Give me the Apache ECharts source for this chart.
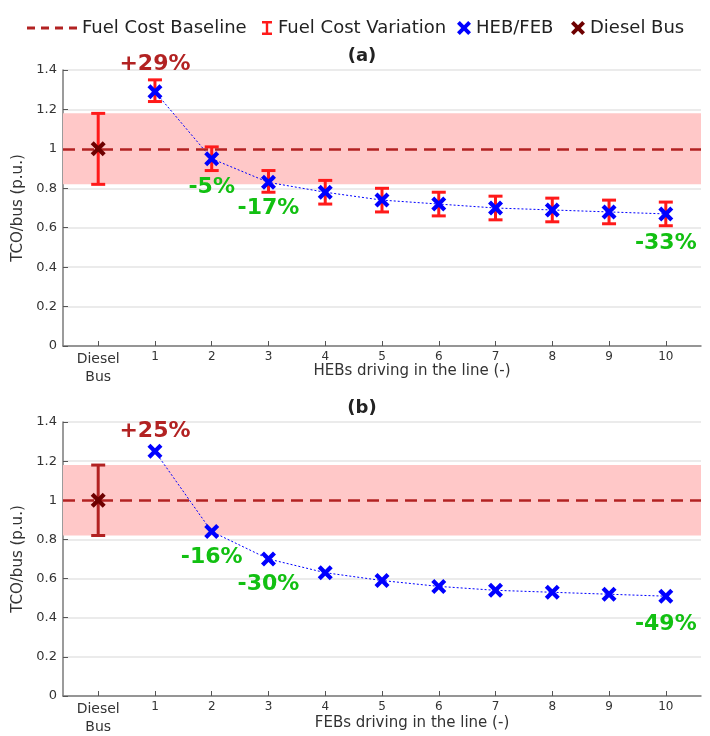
<!DOCTYPE html>
<html>
<head>
<meta charset="utf-8">
<title>TCO per bus</title>
<script src="https://cdn.jsdelivr.net/npm/echarts@6/dist/echarts.min.js"></script>
<style>
  html, body { margin: 0; padding: 0; background: #fff; }
  #chart { width: 710px; height: 736px; }
</style>
</head>
<body>
<div id="chart"></div>
<script>
// x positions: 0 = diesel bus, 1..10 = number of electric buses in the line
const xTickValues = [0, 1, 2, 3, 4, 5, 6, 7, 8, 9, 10];
const xTickLabels = ['Diesel\nBus', '1', '2', '3', '4', '5', '6', '7', '8', '9', '10'];
const busCount = [1, 2, 3, 4, 5, 6, 7, 8, 9, 10];

// diesel reference and fuel cost band
const dieselTco = 1;
const fuelBand = [0.82, 1.18];

// (a) hybrid buses
const hebTco = [1.29, 0.95, 0.83, 0.78, 0.74, 0.72, 0.70, 0.69, 0.68, 0.67];
const hebLow = [1.24, 0.89, 0.78, 0.72, 0.68, 0.66, 0.64, 0.63, 0.62, 0.61];
const hebHigh = [1.35, 1.01, 0.89, 0.84, 0.80, 0.78, 0.76, 0.75, 0.74, 0.73];
const hebNotes = [[1, '+29%'], [2, '-5%'], [3, '-17%'], [10, '-33%']];

// (b) full electric buses
const febTco = [1.25, 0.84, 0.70, 0.63, 0.59, 0.56, 0.54, 0.53, 0.52, 0.51];
const febNotes = [[1, '+25%'], [2, '-16%'], [3, '-30%'], [10, '-49%']];

const FONT = 'DejaVu Sans, Verdana, sans-serif';
const RED = '#ff1a1a';
const FIREBRICK = '#b22222';
const DARKRED = '#6e0000';
const BLUE = '#0000ff';
const GREEN = '#12c012';
const X_PATH = 'path://M2,0 L5,3 L8,0 L10,2 L7,5 L10,8 L8,10 L5,7 L2,10 L0,8 L3,5 L0,2 Z';
const I_PATH = 'path://M0,0 H10 V2.4 H6.2 V11.6 H10 V14 H0 V11.6 H3.8 V2.4 H0 Z';
const DASH_PATH = 'path://M0,0 H8 V3 H0 Z M14,0 H22 V3 H14 Z M28,0 H36 V3 H28 Z M42,0 H50 V3 H42 Z';

function renderErrorBar(params, api) {
    const x = api.value(0);
    const lo = api.coord([x, api.value(1)]);
    const hi = api.coord([x, api.value(2)]);
    const w = 7;
    const style = { stroke: api.visual('color'), lineWidth: 3 };
    return {
        type: 'group',
        children: [
            { type: 'line', shape: { x1: lo[0], y1: lo[1], x2: hi[0], y2: hi[1] }, style: style },
            { type: 'line', shape: { x1: lo[0] - w, y1: lo[1], x2: lo[0] + w, y2: lo[1] }, style: style },
            { type: 'line', shape: { x1: hi[0] - w, y1: hi[1], x2: hi[0] + w, y2: hi[1] }, style: style }
        ]
    };
}

function makeXAxis(gridIndex) {
    return {
        type: 'value',
        gridIndex: gridIndex,
        min: -0.62,
        max: 10.62,
        axisLine: { onZero: false, lineStyle: { color: '#7a7a7a', width: 1.5 } },
        axisTick: { inside: true, length: 5, customValues: xTickValues, lineStyle: { color: '#555' } },
        axisLabel: {
            customValues: xTickValues,
            formatter: function (v) {
                const i = Math.round(v);
                return i === 0 ? '{big|' + xTickLabels[0] + '}' : xTickLabels[i];
            },
            color: '#333', fontFamily: FONT, fontSize: 12, lineHeight: 14, margin: 4,
            rich: { big: { fontFamily: FONT, fontSize: 14, lineHeight: 18, color: '#333' } }
        },
        splitLine: { show: false }
    };
}

function makeYAxis(gridIndex) {
    return {
        type: 'value',
        gridIndex: gridIndex,
        min: 0,
        max: 1.4,
        interval: 0.2,
        name: 'TCO/bus (p.u.)',
        nameLocation: 'middle',
        nameGap: 34,
        nameTextStyle: { color: '#333', fontFamily: FONT, fontSize: 15 },
        axisLine: { show: true, onZero: false, lineStyle: { color: '#7a7a7a', width: 1.5 } },
        axisTick: { show: true, inside: true, length: 5, lineStyle: { color: '#555' } },
        axisLabel: { color: '#333', fontFamily: FONT, fontSize: 13, margin: 6 },
        splitLine: { lineStyle: { color: '#e4e4e4', width: 1.5 } }
    };
}

function noteSeries(gridIndex, values, notes, offsets) {
    return {
        name: 'notes',
        type: 'scatter',
        xAxisIndex: gridIndex,
        yAxisIndex: gridIndex,
        symbolSize: 0,
        silent: true,
        z: 6,
        data: notes.map(function (n, i) {
            return {
                value: [n[0], values[n[0] - 1]],
                label: {
                    show: true,
                    position: 'inside',
                    formatter: n[1],
                    offset: [0, offsets[i]],
                    color: n[1].charAt(0) === '+' ? FIREBRICK : GREEN,
                    textBorderWidth: 0,
                    opacity: 1,
                    fontFamily: FONT, fontWeight: 'bold', fontSize: 22
                }
            };
        })
    };
}

function gridSeries(gridIndex, values, errRows, errColor, notes, offsets) {
    return [
        {
            name: 'Fuel Cost Baseline',
            type: 'line',
            xAxisIndex: gridIndex,
            yAxisIndex: gridIndex,
            symbol: 'none',
            data: [],
            z: 1,
            lineStyle: { color: FIREBRICK, type: [12, 7], width: 2.5 },
            itemStyle: { color: FIREBRICK },
            markArea: {
                silent: true,
                itemStyle: { color: '#ffc8c8' },
                data: [[{ yAxis: fuelBand[0] }, { yAxis: fuelBand[1] }]]
            },
            markLine: {
                silent: true,
                symbol: 'none',
                label: { show: false },
                lineStyle: { color: FIREBRICK, type: [12, 7], width: 2.5 },
                data: [{ yAxis: dieselTco }]
            }
        },
        {
            name: 'Fuel Cost Variation',
            type: 'custom',
            xAxisIndex: gridIndex,
            yAxisIndex: gridIndex,
            renderItem: renderErrorBar,
            encode: { x: 0, y: [1, 2] },
            itemStyle: { color: errColor },
            z: 3,
            data: errRows
        },
        {
            name: 'HEB/FEB',
            type: 'line',
            xAxisIndex: gridIndex,
            yAxisIndex: gridIndex,
            symbol: X_PATH,
            symbolSize: 15,
            itemStyle: { color: BLUE },
            lineStyle: { color: BLUE, type: [2, 2], width: 1 },
            z: 4,
            data: busCount.map(function (n, i) { return [n, values[i]]; })
        },
        {
            name: 'Diesel Bus',
            type: 'scatter',
            xAxisIndex: gridIndex,
            yAxisIndex: gridIndex,
            symbol: X_PATH,
            symbolSize: 15,
            itemStyle: { color: DARKRED, opacity: 1 },
            z: 5,
            data: [[0, dieselTco]]
        },
        noteSeries(gridIndex, values, notes, offsets)
    ];
}

const topErr = [[0, fuelBand[0], fuelBand[1]]].concat(
    busCount.map(function (n, i) { return [n, hebLow[i], hebHigh[i]]; }));
const bottomErr = [[0, fuelBand[0], fuelBand[1]]];

const legendText = { color: '#222', fontFamily: FONT, fontSize: 18 };

const option = {
    animation: false,
    backgroundColor: '#fff',
    legend: [
        { data: [{ name: 'Fuel Cost Baseline', icon: DASH_PATH }], left: 22, top: 14, itemWidth: 50, itemHeight: 3, textStyle: legendText },
        { data: [{ name: 'Fuel Cost Variation', icon: I_PATH }], left: 257, top: 14, itemWidth: 12, itemHeight: 14, textStyle: legendText },
        { data: [{ name: 'HEB/FEB', icon: X_PATH }], left: 452, top: 14, itemWidth: 14, itemHeight: 14, textStyle: legendText },
        { data: [{ name: 'Diesel Bus', icon: X_PATH }], left: 566, top: 14, itemWidth: 14, itemHeight: 14, textStyle: legendText }
    ],
    grid: [
        { left: 63, right: 9, top: 70, height: 276 },
        { left: 63, right: 9, top: 422, height: 277 }
    ],
    xAxis: [makeXAxis(0), makeXAxis(1)],
    yAxis: [makeYAxis(0), makeYAxis(1)],
    graphic: [
        { type: 'text', x: 362, y: 56, style: { text: '(a)', align: 'center', verticalAlign: 'middle', fill: '#222', font: 'bold 18px ' + FONT } },
        { type: 'text', x: 362, y: 408, style: { text: '(b)', align: 'center', verticalAlign: 'middle', fill: '#222', font: 'bold 18px ' + FONT } },
        { type: 'text', x: 412, y: 371, style: { text: 'HEBs driving in the line (-)', align: 'center', verticalAlign: 'middle', fill: '#333', font: '15px ' + FONT } },
        { type: 'text', x: 412, y: 723, style: { text: 'FEBs driving in the line (-)', align: 'center', verticalAlign: 'middle', fill: '#333', font: '15px ' + FONT } }
    ],
    series: gridSeries(0, hebTco, topErr, RED, hebNotes, [-27, 29, 26, 29])
        .concat(gridSeries(1, febTco, bottomErr, FIREBRICK, febNotes, [-20, 26, 25, 28]))
};

const myChart = echarts.init(document.getElementById('chart'));
myChart.setOption(option);
</script>
</body>
</html>
